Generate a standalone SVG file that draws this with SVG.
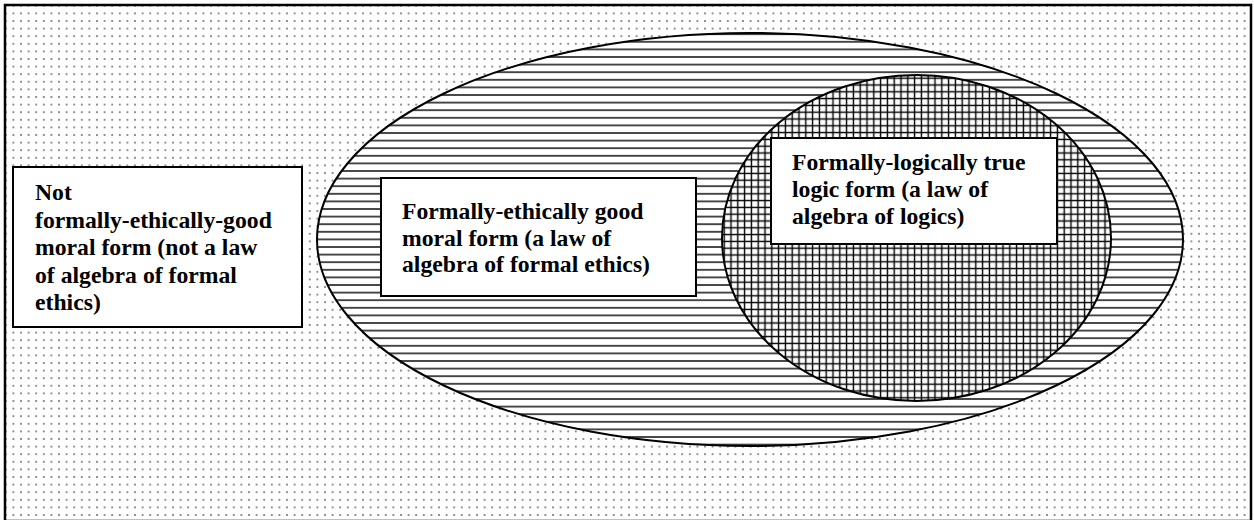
<svg xmlns="http://www.w3.org/2000/svg" width="1254" height="520" viewBox="0 0 1254 520">
  <style>
    .box { fill: #ffffff; stroke: #000000; stroke-width: 2; }
    .lbl { font-weight: bold; font-size: 23.7px; fill: #000000; }
    .edge { stroke: #000000; stroke-width: 2; }
  </style>
  <defs>
    <pattern id="dots" patternUnits="userSpaceOnUse" width="7.6" height="7.6" x="2" y="2">
      <rect width="7.6" height="7.6" fill="#ffffff"/>
      <circle cx="3.8" cy="3.8" r="0.85" fill="#555555"/>
    </pattern>
    <pattern id="hlines" patternUnits="userSpaceOnUse" width="20" height="7.6" x="0" y="0">
      <rect width="20" height="7.6" fill="#ffffff"/>
      <line x1="0" y1="3.8" x2="20" y2="3.8" stroke="#000000" stroke-width="1.4"/>
    </pattern>
    <pattern id="grid" patternUnits="userSpaceOnUse" width="6.8" height="6.8" x="0" y="0">
      <rect width="6.8" height="6.8" fill="#ffffff"/>
      <line x1="0" y1="3.4" x2="6.8" y2="3.4" stroke="#000000" stroke-width="1.4"/>
      <line x1="3.4" y1="0" x2="3.4" y2="6.8" stroke="#000000" stroke-width="1.4"/>
    </pattern>
  </defs>

  <g id="universe">
    <rect x="5" y="5" width="1246" height="516" fill="url(#dots)" stroke="#000000" stroke-width="2.5"/>
  </g>

  <g id="ethics-set">
    <ellipse cx="750" cy="239.5" rx="433" ry="206.5" fill="url(#hlines)" class="edge"/>
  </g>

  <g id="logic-set">
    <ellipse cx="916.5" cy="238" rx="194.5" ry="163" fill="url(#grid)" class="edge"/>
  </g>

  <g id="connectors"></g>

  <g font-family="'Liberation Serif', 'Times New Roman', Times, serif">
  <g id="not-good">
    <rect class="box" x="13" y="167" width="289" height="160"/>
    <text class="lbl" x="35" y="200">Not</text>
    <text class="lbl" x="35" y="228">formally-ethically-good</text>
    <text class="lbl" x="35" y="255">moral form (not a law</text>
    <text class="lbl" x="35" y="283">of algebra of formal</text>
    <text class="lbl" x="35" y="310">ethics)</text>
  </g>

  <g id="good">
    <rect class="box" x="381" y="178" width="315" height="118"/>
    <text class="lbl" x="402" y="219">Formally-ethically good</text>
    <text class="lbl" x="402" y="246">moral form (a law of</text>
    <text class="lbl" x="402" y="272">algebra of formal ethics)</text>
  </g>

  <g id="true">
    <rect class="box" x="771" y="138" width="286" height="106"/>
    <text class="lbl" x="792" y="170">Formally-logically true</text>
    <text class="lbl" x="792" y="197">logic form (a law of</text>
    <text class="lbl" x="792" y="224">algebra of logics)</text>
  </g>
  </g>
</svg>
